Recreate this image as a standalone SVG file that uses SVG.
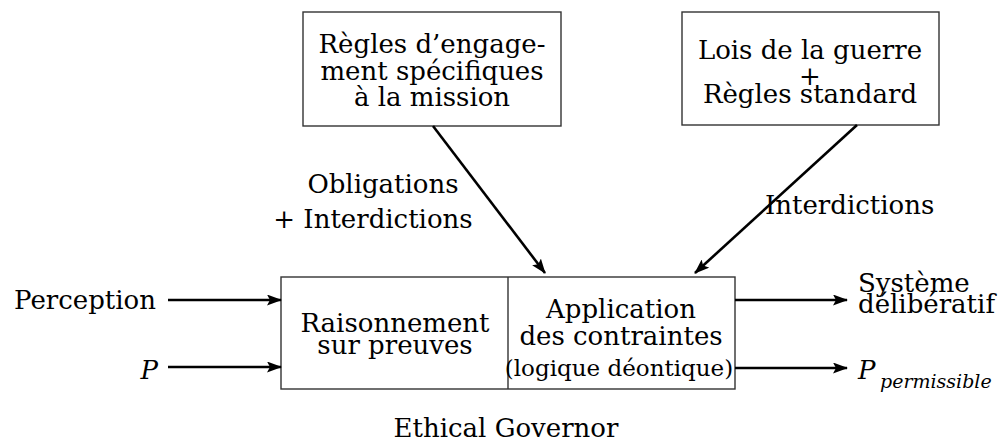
<svg xmlns="http://www.w3.org/2000/svg" width="1004" height="441" viewBox="0 0 1004 441">
  <defs>
    <marker id="head" viewBox="0 0 15 11" refX="14" refY="5.5" markerWidth="15" markerHeight="11" markerUnits="userSpaceOnUse" orient="auto">
      <path d="M0,0 L15,5.5 L0,11 L3,5.5 Z" fill="#000"/>
    </marker>
  </defs>
  <style>
    .box { fill: #fff; stroke: #333; stroke-width: 1.4; }
    .t { font-size: 26px; fill: #000; text-anchor: middle; }
    .l { text-anchor: start; }
    .r { text-anchor: end; }
    .it { font-style: italic; }
    .sm { font-size: 23px; }
    .sub { font-size: 19px; }
    .arrow { stroke: #000; stroke-width: 2.6; fill: none; marker-end: url(#head); }
  </style>

  <g font-family="DejaVu Serif, serif">
  <g id="roe">
    <rect class="box" x="303" y="12" width="258" height="114"/>
    <text class="t" x="432" y="53">Règles d’engage-</text>
    <text class="t" x="432" y="80">ment spécifiques</text>
    <text class="t" x="432" y="106">à la mission</text>
  </g>

  <g id="low">
    <rect class="box" x="682" y="12" width="257" height="113"/>
    <text class="t" x="810" y="59">Lois de la guerre</text>
    <text class="t" x="810" y="85">+</text>
    <text class="t" x="810" y="103">Règles standard</text>
  </g>

  <g id="governor">
    <rect class="box" x="281" y="277" width="454" height="112"/>
    <line x1="508" y1="277" x2="508" y2="389" stroke="#333" stroke-width="1.4"/>
    <text class="t" x="395" y="332">Raisonnement</text>
    <text class="t" x="395" y="354">sur preuves</text>
    <text class="t" x="621" y="318">Application</text>
    <text class="t" x="621" y="345">des contraintes</text>
    <text class="t sm" x="619" y="376">(logique déontique)</text>
    <text class="t" x="506" y="437">Ethical Governor</text>
  </g>

  <g id="inputs">
    <text class="t r" x="156" y="309">Perception</text>
    <text class="t r it" x="158" y="379">P</text>
  </g>

  <g id="outputs">
    <text class="t l" x="858" y="292">Système</text>
    <text class="t l" x="858" y="313">délibératif</text>
    <text class="t l it" x="858" y="379">P</text>
    <text class="t l it sub" x="880" y="388">permissible</text>
  </g>

  <g id="connectors">
    <line class="arrow" x1="168" y1="300" x2="281" y2="300"/>
    <line class="arrow" x1="168" y1="367" x2="281" y2="367"/>
    <line class="arrow" x1="735" y1="300" x2="847" y2="300"/>
    <line class="arrow" x1="735" y1="368" x2="847" y2="368"/>
    <line class="arrow" x1="433" y1="126" x2="545" y2="273"/>
    <line class="arrow" x1="857" y1="125" x2="695" y2="273"/>
    <text class="t" x="383" y="193">Obligations</text>
    <text class="t" x="373" y="228">+ Interdictions</text>
    <text class="t l" x="765" y="214">Interdictions</text>
  </g>
  </g>
</svg>
